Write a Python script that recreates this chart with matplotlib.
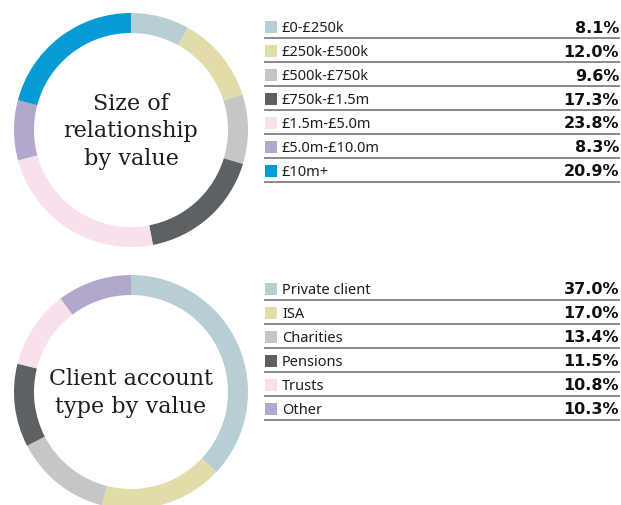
import matplotlib.pyplot as plt

# Data
size_labels = ['£0-£250k', '£250k-£500k', '£500k-£750k', '£750k-£1.5m',
               '£1.5m-£5.0m', '£5.0m-£10.0m', '£10m+']
size_values = [8.1, 12.0, 9.6, 17.3, 23.8, 8.3, 20.9]

type_labels = ['Private client', 'ISA', 'Charities', 'Pensions', 'Trusts', 'Other']
type_values = [37.0, 17.0, 13.4, 11.5, 10.8, 10.3]

colors = ['#b8ced5', '#e0ddaa', '#c6c6c6', '#5e6163', '#fae0ee', '#b4a7cc', '#069bd5']

W, H = 621, 506
fig = plt.figure(figsize=(W / 100, H / 100), dpi=100)
ax = fig.add_axes([0, 0, 1, 1])


def donut(cx, cy, values, title_lines):
    ax.pie(values, colors=colors[:len(values)], center=(cx, H - cy), radius=117,
           startangle=90, counterclock=False,
           wedgeprops=dict(width=20, linewidth=0))
    n = len(title_lines)
    for i, t in enumerate(title_lines):
        y = cy + (i - (n - 1) / 2) * 27.5
        ax.text(cx, H - y, t, ha='center', va='center', fontsize=16,
                family='DejaVu Serif', color='#1e1e1e')


def table(y0, labels, values):
    for i, (lab, val) in enumerate(zip(labels, values)):
        y = y0 + i * 24
        ax.add_patch(plt.Rectangle((265, H - y - 6), 12, 12, color=colors[i], lw=0))
        ax.text(282, H - y, lab, ha='left', va='center', fontsize=10.5,
                family='Noto Sans', color='#1e1e1e')
        ax.text(619, H - y, '%.1f%%' % val, ha='right', va='center', fontsize=11.5,
                fontweight='bold', color='#111111')
        ax.plot([265, 619], [H - y - 11, H - y - 11], color='#8a8a8a', lw=1.4)


donut(131, 131, size_values, ['Size of', 'relationship', 'by value'])
table(28, size_labels, size_values)

donut(131, 393, type_values, ['Client account', 'type by value'])
table(290, type_labels, type_values)

ax.set_xlim(0, W)
ax.set_ylim(0, H)
ax.set_aspect('auto')
ax.axis('off')

fig.savefig('out.png', dpi=100)
